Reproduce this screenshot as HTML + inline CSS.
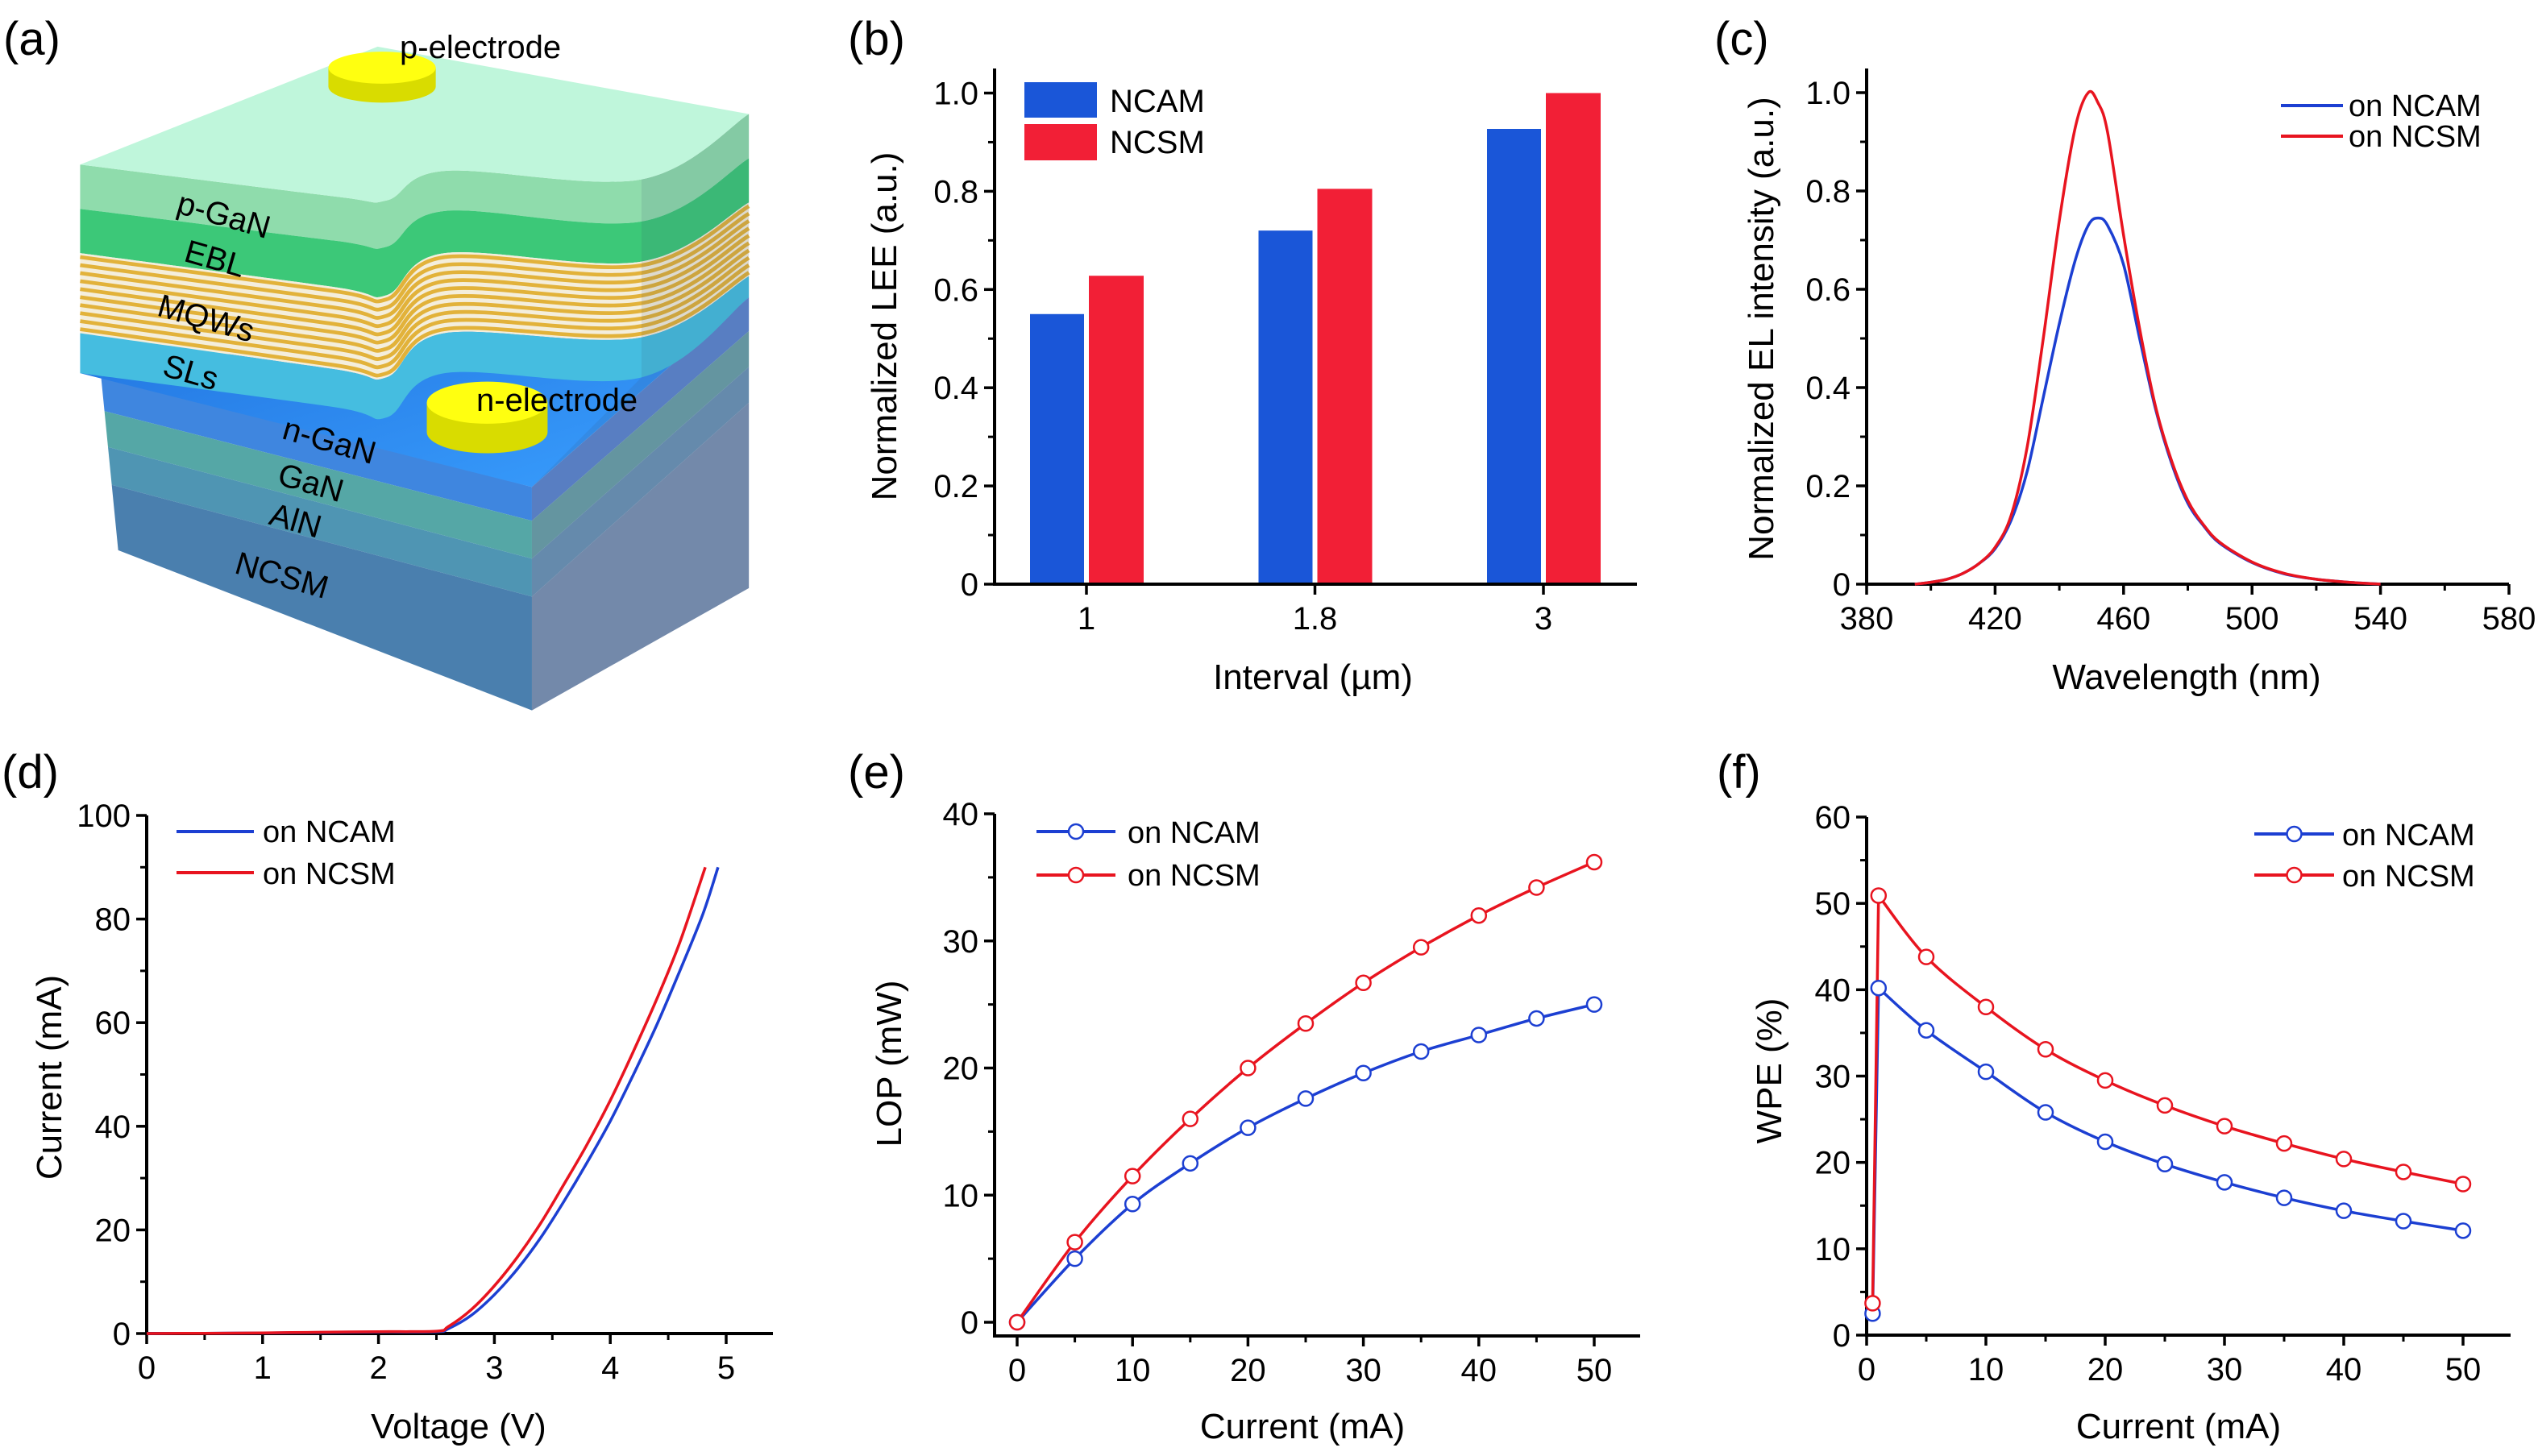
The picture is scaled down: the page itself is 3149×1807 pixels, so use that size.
<!DOCTYPE html>
<html><head><meta charset="utf-8"><style>
html,body{margin:0;padding:0;background:#fff;}
svg{display:block;font-family:"Liberation Sans",Arial,sans-serif;}
</style></head>
<body>
<svg id="fig" width="3149" height="1807" viewBox="0 0 3149 1807" xmlns="http://www.w3.org/2000/svg">
<rect width="3149" height="1807" fill="#fff"/>
</svg>
<script>
// ---------- DATA ----------
const bCats = ['1', '1.8', '3'];
const bNCAM = [0.55, 0.72, 0.927];
const bNCSM = [0.628, 0.805, 1.0];
const bYTicks = [0, 0.2, 0.4, 0.6, 0.8, 1.0];
const bYLabels = ['0', '0.2', '0.4', '0.6', '0.8', '1.0'];

const cWaveNCSM = [395, 400, 405, 410, 415, 420, 425, 430, 435, 440, 445, 449, 452, 455, 460, 465, 470, 475, 480, 485, 490, 500, 510, 520, 530, 540];
const cValNCSM  = [0, 0.004, 0.01, 0.022, 0.042, 0.075, 0.14, 0.28, 0.5, 0.74, 0.93, 1.0, 0.98, 0.92, 0.71, 0.52, 0.36, 0.25, 0.17, 0.12, 0.085, 0.045, 0.022, 0.01, 0.004, 0];
const cWaveNCAM = [395, 400, 405, 410, 415, 420, 425, 430, 435, 440, 445, 449, 452, 455, 460, 465, 470, 475, 480, 485, 490, 500, 510, 520, 530, 540];
const cValNCAM  = [0, 0.004, 0.01, 0.022, 0.042, 0.072, 0.13, 0.23, 0.38, 0.53, 0.66, 0.73, 0.745, 0.73, 0.65, 0.5, 0.355, 0.245, 0.165, 0.118, 0.083, 0.044, 0.021, 0.01, 0.004, 0];
const cXTicks = [380, 420, 460, 500, 540, 580];
const cYTicks = [0, 0.2, 0.4, 0.6, 0.8, 1.0];
const cYLabels = ['0', '0.2', '0.4', '0.6', '0.8', '1.0'];

const dVoltNCAM = [0, 0.5, 1, 1.5, 2, 2.5, 2.6, 2.8, 3.0, 3.2, 3.4, 3.6, 3.8, 4.0, 4.2, 4.4, 4.6, 4.8, 4.93];
const dCurNCAM  = [0, 0.05, 0.1, 0.2, 0.3, 0.35, 0.9, 3.5, 7.5, 12.5, 18.5, 25.5, 33, 41, 50, 59.5, 70, 81, 90];
const dVoltNCSM = [0, 0.5, 1, 1.5, 2, 2.5, 2.6, 2.8, 3.0, 3.2, 3.4, 3.6, 3.8, 4.0, 4.2, 4.4, 4.6, 4.82];
const dCurNCSM  = [0, 0.05, 0.12, 0.25, 0.35, 0.45, 1.3, 4.6, 9.2, 14.8, 21.3, 28.8, 36.5, 45, 54.5, 64.5, 75.5, 90];
const dXTicks = [0, 1, 2, 3, 4, 5];
const dYTicks = [0, 20, 40, 60, 80, 100];

const eCur = [0, 5, 10, 15, 20, 25, 30, 35, 40, 45, 50];
const eNCAM = [0, 5.0, 9.3, 12.5, 15.3, 17.6, 19.6, 21.3, 22.6, 23.9, 25.0];
const eNCSM = [0, 6.3, 11.5, 16.0, 20.0, 23.5, 26.7, 29.5, 32.0, 34.2, 36.2];
const eXTicks = [0, 10, 20, 30, 40, 50];
const eYTicks = [0, 10, 20, 30, 40];

const fCur = [0.5, 1, 5, 10, 15, 20, 25, 30, 35, 40, 45, 50];
const fNCAM = [2.5, 40.2, 35.3, 30.5, 25.8, 22.4, 19.8, 17.7, 15.9, 14.4, 13.2, 12.1];
const fNCSM = [3.7, 50.9, 43.8, 38.0, 33.1, 29.5, 26.6, 24.2, 22.2, 20.4, 18.9, 17.5];
const fXTicks = [0, 10, 20, 30, 40, 50];
const fYTicks = [0, 10, 20, 30, 40, 50, 60];

// ---------- HELPERS ----------
const NS = 'http://www.w3.org/2000/svg';
const SVG = document.getElementById('fig');
const BLUE = '#1c3fd2', RED = '#e8141f';
function mk(tag, attrs, parent) {
  const e = document.createElementNS(NS, tag);
  for (const k in attrs) e.setAttribute(k, attrs[k]);
  (parent || SVG).appendChild(e);
  return e;
}
function nm(el, name, inter) {
  
  
  return el;
}
function txt(x, y, s, size, anchor, parent, name, extra) {
  const t = mk('text', Object.assign({x: x, y: y, 'font-size': size, 'text-anchor': anchor || 'start', fill: '#000'}, extra || {}), parent);
  t.textContent = s;
  nm(t, name);
  return t;
}
function smooth(pts) {
  if (pts.length < 2) return '';
  let d = 'M' + pts[0][0].toFixed(1) + ' ' + pts[0][1].toFixed(1);
  for (let i = 0; i < pts.length - 1; i++) {
    const p0 = pts[Math.max(0, i - 1)], p1 = pts[i], p2 = pts[i + 1], p3 = pts[Math.min(pts.length - 1, i + 2)];
    const c1 = [p1[0] + (p2[0] - p0[0]) / 6, p1[1] + (p2[1] - p0[1]) / 6];
    const c2 = [p2[0] - (p3[0] - p1[0]) / 6, p2[1] - (p3[1] - p1[1]) / 6];
    d += ' C' + c1[0].toFixed(1) + ' ' + c1[1].toFixed(1) + ' ' + c2[0].toFixed(1) + ' ' + c2[1].toFixed(1) + ' ' + p2[0].toFixed(1) + ' ' + p2[1].toFixed(1);
  }
  return d;
}
function linear(pts) { return pts.map((p, i) => (i ? 'L' : 'M') + p[0].toFixed(1) + ' ' + p[1].toFixed(1)).join(' '); }

function panelLabel(x, y, s, name) { txt(x, y, s, 58, 'start', SVG, name); }

// generic axes
function axes(o) {
  const g = mk('g', {});
  nm(g, o.name + '-axes');
  const xa = mk('line', {x1: o.axL, y1: o.axB, x2: o.axR, y2: o.axB, stroke: '#000', 'stroke-width': 4}, g);
  nm(xa, o.name + '-x-axis-line');
  const ya = mk('line', {x1: o.axL, y1: o.axB + 2, x2: o.axL, y2: o.axT, stroke: '#000', 'stroke-width': 4}, g);
  nm(ya, o.name + '-y-axis-line');
  o.xTicks.forEach((v, i) => {
    const x = o.sx(v);
    const t = mk('line', {x1: x, y1: o.axB, x2: x, y2: o.axB + 13, stroke: '#000', 'stroke-width': 3.5}, g);
    nm(t, o.name + '-x-tick');
    txt(x, o.axB + 56, o.xLabels ? o.xLabels[i] : String(v), 40, 'middle', g, o.name + '-x-tick-label');
  });
  (o.xMinor || []).forEach(v => {
    const x = o.sx(v);
    const t = mk('line', {x1: x, y1: o.axB, x2: x, y2: o.axB + 8, stroke: '#000', 'stroke-width': 3}, g);
    nm(t, o.name + '-x-minor-tick');
  });
  o.yTicks.forEach((v, i) => {
    const y = o.sy(v);
    const t = mk('line', {x1: o.axL, y1: y, x2: o.axL - 13, y2: y, stroke: '#000', 'stroke-width': 3.5}, g);
    nm(t, o.name + '-y-tick');
    txt(o.axL - 20, y + 14, o.yLabels ? o.yLabels[i] : String(v), 40, 'end', g, o.name + '-y-tick-label');
  });
  (o.yMinor || []).forEach(v => {
    const y = o.sy(v);
    const t = mk('line', {x1: o.axL, y1: y, x2: o.axL - 8, y2: y, stroke: '#000', 'stroke-width': 3}, g);
    nm(t, o.name + '-y-minor-tick');
  });
  txt(o.xtX, o.xtY, o.xTitle, 44, 'middle', g, o.name + '-x-axis-title');
  txt(0, 0, o.yTitle, 44, 'middle', g, o.name + '-y-axis-title', {transform: 'translate(' + o.ytX + ',' + o.ytY + ') rotate(-90)'});
}
function minors(a, b, step, skip) { const r = []; for (let v = a; v <= b + 1e-9; v += step) { const vv = Math.round(v * 1000) / 1000; if (!skip.some(s => Math.abs(s - vv) < 1e-6)) r.push(vv); } return r; }

// ---------- PANEL A (schematic) ----------
(function () {
  panelLabel(4, 68, '(a)', 'panel-label-a');
  const g = mk('g', {transform: 'translate(80,50) scale(0.555,0.523)'});
  nm(g, 'device-schematic');
  const defs = mk('defs', {}, g);
  const lg = mk('linearGradient', {id: 'floorG', x1: '0', y1: '0', x2: '1', y2: '1'}, defs);
  mk('stop', {offset: '0', 'stop-color': '#1f6fdc'}, lg);
  mk('stop', {offset: '1', 'stop-color': '#3aa0ff'}, lg);
  // lower front bands
  const fl = [790, 880, 965, 1055, 1210], fr = [1060, 1140, 1230, 1320, 1590];
  const rr = [610, 690, 775, 860, 1300];
  const fcol = ['#3f86df', '#55a7a6', '#4f95b3', '#4a7fae'];
  const rcol = ['#5d86cf', '#6aa0a8', '#6b93b5', '#7b92b3'];
  const bandNames = ['n-gan-layer', 'gan-layer', 'aln-layer', 'ncsm-layer'];
  const lx = y => 35 + (y - 295) * 0.093;
  for (let i = 0; i < 4; i++) {
    const p = mk('polygon', {points: [lx(fl[i]), fl[i], 1045, fr[i], 1045, fr[i + 1], lx(fl[i + 1]), fl[i + 1]].join(' '), fill: fcol[i]}, g);
    nm(p, bandNames[i] + '-front');
    const q = mk('polygon', {points: [1045, fr[i], 1530, rr[i], 1530, rr[i + 1], 1045, fr[i + 1]].join(' '), fill: rcol[i]}, g);
    nm(q, bandNames[i] + '-side');
  }
  const floor = mk('polygon', {points: '35,790 1045,1060 1530,610 1290,560 700,700', fill: 'url(#floorG)'}, g);
  nm(floor, 'n-gan-recess-floor');
  // mesa bands
  const xs = [35, 600, 720, 850, 1290, 1530];
  const B = [
    [295, 370, 380, 310, 330, 175],
    [400, 475, 490, 405, 430, 280],
    [505, 585, 605, 505, 525, 385],
    [695, 780, 800, 695, 705, 560],
    [790, 870, 895, 790, 800, 610]
  ];
  const pts = b => xs.map((x, i) => [x, b[i]]);
  function band(b1, b2, fill, name) {
    const a = pts(b1), c = pts(b2).reverse();
    const d = smooth(a) + ' L' + c[0][0] + ' ' + c[0][1] + ' ' + smooth(c).replace(/^M[^C]*/, '') + ' Z';
    const p = mk('path', {d: d, fill: fill}, g);
    nm(p, name);
    return p;
  }
  band(B[0], B[1], '#8fdcac', 'p-gan-layer');
  band(B[1], B[2], '#3cc878', 'ebl-layer');
  band(B[2], B[3], '#f4eedc', 'mqw-layer');
  for (let k = 0; k < 10; k++) {
    const t = (k + 0.5) / 10;
    const bl = B[2].map((v, i) => v + (B[3][i] - v) * t);
    const s = mk('path', {d: smooth(pts(bl)), fill: 'none', stroke: '#e2b23a', 'stroke-width': 9}, g);
    nm(s, 'quantum-well-stripe');
  }
  band(B[3], B[4], '#45bde0', 'sls-layer');
  // right face shading
  const sh = mk('polygon', {points: '1290,330 1530,175 1530,1300 1045,1590 1045,1060 1290,800', fill: 'rgba(60,70,110,0.12)'}, g);
  nm(sh, 'side-shading');
  // top face
  const top = pts(B[0]).reverse();
  const td = 'M35 295 L700 15 L1530 175 ' + smooth(top).replace(/^M/, 'L') + ' Z';
  const tp = mk('path', {d: td, fill: '#bff6db'}, g);
  nm(tp, 'top-surface');
  // electrodes
  function electrode(cx, cy, rx, ry, h, name) {
    const e = mk('g', {}, g);
    nm(e, name);
    mk('path', {d: 'M' + (cx - rx) + ' ' + cy + ' L' + (cx - rx) + ' ' + (cy + h) + ' A' + rx + ' ' + ry + ' 0 0 0 ' + (cx + rx) + ' ' + (cy + h) + ' L' + (cx + rx) + ' ' + cy + ' Z', fill: '#d9dc00'}, e);
    mk('ellipse', {cx: cx, cy: cy, rx: rx, ry: ry, fill: '#ffff10'}, e);
  }
  electrode(710, 65, 120, 38, 45, 'p-electrode-pad');
  electrode(945, 860, 135, 50, 70, 'n-electrode-pad');
  txt(496, 72, 'p-electrode', 40, 'start', SVG, 'p-electrode-label');
  txt(591, 510, 'n-electrode', 40, 'start', SVG, 'n-electrode-label');
  const labs = [['p-GaN', 274, 280], ['EBL', 263, 334], ['MQWs', 252, 408], ['SLs', 233, 475], ['n-GaN', 405, 560], ['GaN', 382, 612], ['AlN', 363, 659], ['NCSM', 346, 727]];
  labs.forEach(l => txt(0, 0, l[0], 40, 'middle', SVG, 'layer-label', {transform: 'translate(' + l[1] + ',' + l[2] + ') rotate(16)'}));
})();

// ---------- PANEL B ----------
(function () {
  panelLabel(1052, 68, '(b)', 'panel-label-b');
  const xc = i => 1348 + i * 283.5;
  const sy = v => 725 - v * 609.5;
  bCats.forEach((c, i) => {
    const b1 = mk('rect', {x: xc(i) - 70, y: sy(bNCAM[i]), width: 67, height: 725 - sy(bNCAM[i]), fill: '#1a56d8'});
    nm(b1, 'bar-ncam-' + c);
    const b2 = mk('rect', {x: xc(i) + 3, y: sy(bNCSM[i]), width: 68, height: 725 - sy(bNCSM[i]), fill: '#f21f36'});
    nm(b2, 'bar-ncsm-' + c);
  });
  axes({name: 'lee', axL: 1234, axR: 2031, axB: 725, axT: 85, sx: i => xc(i), sy: sy,
    xTicks: [0, 1, 2], xLabels: bCats, yTicks: bYTicks, yLabels: bYLabels, yMinor: [0.1, 0.3, 0.5, 0.7, 0.9],
    xTitle: 'Interval (\u00b5m)', xtX: 1629, xtY: 855, yTitle: 'Normalized LEE (a.u.)', ytX: 1112, ytY: 405});
  const l1 = mk('rect', {x: 1271, y: 102, width: 90, height: 44, fill: '#1a56d8'}); nm(l1, 'legend-swatch-ncam');
  const l2 = mk('rect', {x: 1271, y: 154, width: 90, height: 45, fill: '#f21f36'}); nm(l2, 'legend-swatch-ncsm');
  txt(1377, 139, 'NCAM', 40, 'start', SVG, 'legend-label-ncam');
  txt(1377, 190, 'NCSM', 40, 'start', SVG, 'legend-label-ncsm');
})();

// ---------- PANEL C ----------
(function () {
  panelLabel(2127, 68, '(c)', 'panel-label-c');
  const sx = w => 2316 + (w - 380) * (3113 - 2316) / 200;
  const sy = v => 725 - v * 610;
  axes({name: 'el', axL: 2316, axR: 3113, axB: 725, axT: 85, sx: sx, sy: sy,
    xTicks: cXTicks, xMinor: [400, 440, 480, 520, 560], yTicks: cYTicks, yLabels: cYLabels, yMinor: [0.1, 0.3, 0.5, 0.7, 0.9],
    xTitle: 'Wavelength (nm)', xtX: 2713, xtY: 855, yTitle: 'Normalized EL intensity (a.u.)', ytX: 2200, ytY: 408});
  const p1 = mk('path', {d: smooth(cWaveNCAM.map((w, i) => [sx(w), sy(cValNCAM[i])])), fill: 'none', stroke: BLUE, 'stroke-width': 3.5});
  nm(p1, 'el-line-ncam');
  const p2 = mk('path', {d: smooth(cWaveNCSM.map((w, i) => [sx(w), sy(cValNCSM[i])])), fill: 'none', stroke: RED, 'stroke-width': 3.5});
  nm(p2, 'el-line-ncsm');
  const a = mk('line', {x1: 2830, y1: 131, x2: 2907, y2: 131, stroke: BLUE, 'stroke-width': 4}); nm(a, 'legend-line-ncam');
  const b = mk('line', {x1: 2830, y1: 169, x2: 2907, y2: 169, stroke: RED, 'stroke-width': 4}); nm(b, 'legend-line-ncsm');
  txt(2914, 144, 'on NCAM', 38, 'start', SVG, 'legend-label-ncam');
  txt(2914, 182, 'on NCSM', 38, 'start', SVG, 'legend-label-ncsm');
})();

// ---------- PANEL D ----------
(function () {
  panelLabel(2, 978, '(d)', 'panel-label-d');
  const sx = v => 182 + v * (901 - 182) / 5;
  const sy = v => 1655 - v * (1655 - 1012) / 100;
  axes({name: 'iv', axL: 182, axR: 959, axB: 1655, axT: 1012, sx: sx, sy: sy,
    xTicks: dXTicks, xMinor: [0.5, 1.5, 2.5, 3.5, 4.5], yTicks: dYTicks, yMinor: [10, 30, 50, 70, 90],
    xTitle: 'Voltage (V)', xtX: 569, xtY: 1785, yTitle: 'Current (mA)', ytX: 76, ytY: 1337});
  const p1 = mk('path', {d: smooth(dVoltNCAM.map((v, i) => [sx(v), sy(dCurNCAM[i])])), fill: 'none', stroke: BLUE, 'stroke-width': 3.5});
  nm(p1, 'iv-line-ncam');
  const p2 = mk('path', {d: smooth(dVoltNCSM.map((v, i) => [sx(v), sy(dCurNCSM[i])])), fill: 'none', stroke: RED, 'stroke-width': 3.5});
  nm(p2, 'iv-line-ncsm');
  const a = mk('line', {x1: 219, y1: 1032, x2: 315, y2: 1032, stroke: BLUE, 'stroke-width': 4}); nm(a, 'legend-line-ncam');
  const b = mk('line', {x1: 219, y1: 1083, x2: 315, y2: 1083, stroke: RED, 'stroke-width': 4}); nm(b, 'legend-line-ncsm');
  txt(326, 1045, 'on NCAM', 38, 'start', SVG, 'legend-label-ncam');
  txt(326, 1097, 'on NCSM', 38, 'start', SVG, 'legend-label-ncsm');
})();

function markers(xsArr, ysArr, sx, sy, col, name) {
  xsArr.forEach((x, i) => {
    const c = mk('circle', {cx: sx(x), cy: sy(ysArr[i]), r: 9, fill: '#fff', stroke: col, 'stroke-width': 2.5});
    nm(c, name);
  });
}
function legMarker(x1, x2, y, col, name) {
  const l = mk('line', {x1: x1, y1: y, x2: x2, y2: y, stroke: col, 'stroke-width': 4}); nm(l, name + '-line');
  const c = mk('circle', {cx: (x1 + x2) / 2, cy: y, r: 9, fill: '#fff', stroke: col, 'stroke-width': 2.5}); nm(c, name + '-marker');
}

// ---------- PANEL E ----------
(function () {
  panelLabel(1052, 978, '(e)', 'panel-label-e');
  const sx = v => 1262 + v * (1978 - 1262) / 50;
  const sy = v => 1641 - v * (1641 - 1010) / 40;
  axes({name: 'lop', axL: 1234, axR: 2035, axB: 1658, axT: 1010, sx: sx, sy: sy,
    xTicks: eXTicks, xMinor: [5, 15, 25, 35, 45], yTicks: eYTicks, yMinor: [5, 15, 25, 35],
    xTitle: 'Current (mA)', xtX: 1616, xtY: 1785, yTitle: 'LOP (mW)', ytX: 1118, ytY: 1320});
  const p1 = mk('path', {d: smooth(eCur.map((v, i) => [sx(v), sy(eNCAM[i])])), fill: 'none', stroke: BLUE, 'stroke-width': 3.5});
  nm(p1, 'lop-line-ncam');
  const p2 = mk('path', {d: smooth(eCur.map((v, i) => [sx(v), sy(eNCSM[i])])), fill: 'none', stroke: RED, 'stroke-width': 3.5});
  nm(p2, 'lop-line-ncsm');
  markers(eCur, eNCAM, sx, sy, BLUE, 'lop-point-ncam');
  markers(eCur, eNCSM, sx, sy, RED, 'lop-point-ncsm');
  legMarker(1286, 1384, 1032, BLUE, 'legend-ncam');
  legMarker(1286, 1384, 1086, RED, 'legend-ncsm');
  txt(1399, 1046, 'on NCAM', 38, 'start', SVG, 'legend-label-ncam');
  txt(1399, 1099, 'on NCSM', 38, 'start', SVG, 'legend-label-ncsm');
})();

// ---------- PANEL F ----------
(function () {
  panelLabel(2130, 978, '(f)', 'panel-label-f');
  const sx = v => 2316 + v * (3056 - 2316) / 50;
  const sy = v => 1657 - v * (1657 - 1014) / 60;
  axes({name: 'wpe', axL: 2316, axR: 3115, axB: 1657, axT: 1014, sx: sx, sy: sy,
    xTicks: fXTicks, xMinor: [5, 15, 25, 35, 45], yTicks: fYTicks, yMinor: [5, 15, 25, 35, 45, 55],
    xTitle: 'Current (mA)', xtX: 2703, xtY: 1785, yTitle: 'WPE (%)', ytX: 2210, ytY: 1329});
  const p1 = mk('path', {d: linear(fCur.slice(0, 2).map((v, i) => [sx(v), sy(fNCAM[i])])) + ' ' + smooth(fCur.slice(1).map((v, i) => [sx(v), sy(fNCAM[i + 1])])).replace(/^M/, 'L'), fill: 'none', stroke: BLUE, 'stroke-width': 3.5});
  nm(p1, 'wpe-line-ncam');
  const p2 = mk('path', {d: linear(fCur.slice(0, 2).map((v, i) => [sx(v), sy(fNCSM[i])])) + ' ' + smooth(fCur.slice(1).map((v, i) => [sx(v), sy(fNCSM[i + 1])])).replace(/^M/, 'L'), fill: 'none', stroke: RED, 'stroke-width': 3.5});
  nm(p2, 'wpe-line-ncsm');
  markers(fCur, fNCAM, sx, sy, BLUE, 'wpe-point-ncam');
  markers(fCur, fNCSM, sx, sy, RED, 'wpe-point-ncsm');
  legMarker(2797, 2896, 1035, BLUE, 'legend-ncam');
  legMarker(2797, 2896, 1086, RED, 'legend-ncsm');
  txt(2906, 1049, 'on NCAM', 38, 'start', SVG, 'legend-label-ncam');
  txt(2906, 1100, 'on NCSM', 38, 'start', SVG, 'legend-label-ncsm');
})();
</script>
</body></html>
